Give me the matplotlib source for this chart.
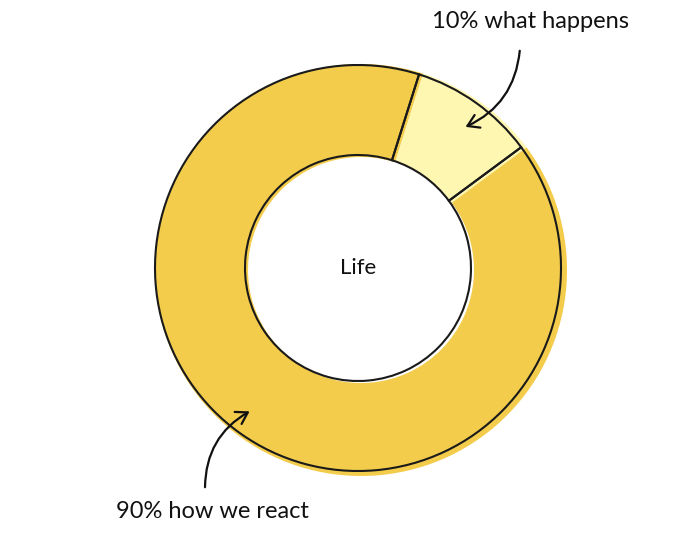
import matplotlib
matplotlib.use('Agg')
import matplotlib.pyplot as plt
from matplotlib.patches import FancyArrowPatch

#-----------------------------------------------------------------------------
## Data
#-----------------------------------------------------------------------------
labels = ['10% what happens', '90% how we react']
values = [10, 90]
colors = ['#FEF7B2', '#F3CC4B']
center_text = 'Life'

plt.rcParams['font.family'] = ['Lato', 'DejaVu Sans']

fig = plt.figure(figsize=(6.8, 5.38), dpi=100)
ax = fig.add_axes([0, 0, 1, 1])

cx, cy = 358, 270
r_out, ring = 203, 90

#-----------------------------------------------------------------------------
## Fill (slightly offset, hand-drawn look) and outline
#-----------------------------------------------------------------------------
ax.pie(values, colors=colors, startangle=72.5, counterclock=False,
       center=(cx + 3, cy - 2), radius=r_out + 3, frame=True,
       wedgeprops=dict(width=ring + 3, linewidth=0))
ax.pie(values, colors=colors, startangle=72.5, counterclock=False,
       center=(cx, cy), radius=r_out, frame=True,
       wedgeprops=dict(width=ring, edgecolor='#1a1a1a', linewidth=1.5,
                       facecolor='none'))
ax.set_xlim(0, 680)
ax.set_ylim(0, 538)
ax.set_aspect('equal')
ax.axis('off')

ax.text(cx, cy, center_text, ha='center', va='center', fontsize=16, color='#111111')

#-----------------------------------------------------------------------------
## Labels with curved arrows
#-----------------------------------------------------------------------------
ax.text(530, 516, labels[0], ha='center', va='center', fontsize=17, color='#111111')
ax.text(212, 26, labels[1], ha='center', va='center', fontsize=17, color='#111111')

a1 = FancyArrowPatch((520, 490), (463, 410), connectionstyle='arc3,rad=-0.3',
                     arrowstyle='->,head_length=8,head_width=5', color='#111111',
                     linewidth=1.6, mutation_scale=1)
a2 = FancyArrowPatch((205, 48), (252, 128), connectionstyle='arc3,rad=-0.3',
                     arrowstyle='->,head_length=8,head_width=5', color='#111111',
                     linewidth=1.6, mutation_scale=1)
ax.add_patch(a1)
ax.add_patch(a2)

fig.savefig('out.png', dpi=100, facecolor='white')
